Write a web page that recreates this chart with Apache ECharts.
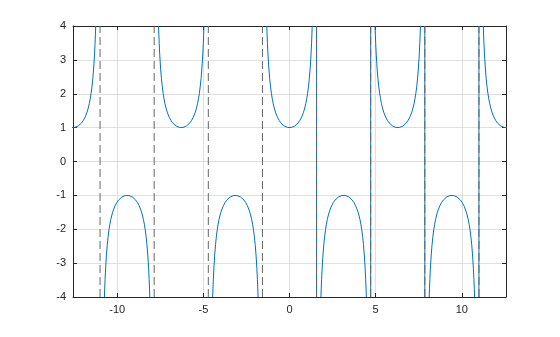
<!DOCTYPE html>
<html><head><meta charset="utf-8">
<script src="https://cdn.jsdelivr.net/npm/echarts@6/dist/echarts.min.js"></script>
<style>html,body{margin:0;padding:0;background:#fff}#c{width:560px;height:337px}</style>
</head><body><div id="c"></div>
<script>
// Branch centers (x) and their sign (+1 upward U, -1 downward cap)
const branchCenters = [-12.566, -9.425, -6.283, -3.142, 0, 3.142, 6.283, 9.425, 12.566];
const branchSigns = [1, -1, 1, -1, 1, -1, 1, -1, 1];
// Shape of one branch: offset from center -> |y|
const profileOffsets = [0, 0.1, 0.2, 0.3, 0.4, 0.5, 0.6, 0.7, 0.8, 0.85, 0.9, 0.95, 1.0, 1.05, 1.1, 1.15, 1.2, 1.25, 1.28, 1.3, 1.318];
const profileValues  = [1, 1.005, 1.02, 1.047, 1.086, 1.139, 1.212, 1.308, 1.435, 1.517, 1.609, 1.718, 1.851, 2.01, 2.204, 2.45, 2.76, 3.171, 3.49, 3.738, 4.0];
// Asymptotes
const asymptotesDashed = [-10.996, -7.854, -4.712, -1.571, 1.571, 4.712, 7.854, 10.996];
const asymptotesSolid = [1.571, 4.712, 7.854, 10.996];
// Ticks
const xTicks = [-10, -5, 0, 5, 10];
const yTicks = [-4, -3, -2, -1, 0, 1, 2, 3, 4];
const xRange = [-12.566, 12.566];
const yRange = [-4, 4];

const curve = [];
branchCenters.forEach((c, i) => {
  const s = branchSigns[i];
  for (let k = profileOffsets.length - 1; k >= 0; k--) curve.push([c - profileOffsets[k], s * profileValues[k]]);
  for (let k = 1; k < profileOffsets.length; k++) curve.push([c + profileOffsets[k], s * profileValues[k]]);
  curve.push([c, null]);
});
function vlines(xs) {
  const d = [];
  xs.forEach(x => { d.push([x, yRange[0]]); d.push([x, yRange[1]]); d.push([x, null]); });
  return d;
}
const txt = {color: '#262626', fontFamily: 'Liberation Sans, Arial, sans-serif', fontSize: 11};
const chart = echarts.init(document.getElementById('c'), null, {renderer: 'canvas'});
chart.setOption({
  animation: false,
  grid: {left: 73, right: 54, top: 26, bottom: 40, containLabel: false},
  xAxis: [{
    type: 'value', min: xRange[0], max: xRange[1], position: 'bottom',
    axisLine: {show: true, onZero: false, lineStyle: {color: '#262626', width: 1}},
    axisTick: {show: true, inside: true, length: 4, customValues: xTicks, lineStyle: {color: '#262626'}},
    axisLabel: Object.assign({customValues: xTicks, margin: 7}, txt),
    splitLine: {show: true, lineStyle: {color: '#dfdfdf', width: 1}}
  }, {
    type: 'value', min: xRange[0], max: xRange[1], position: 'top',
    axisLine: {show: true, onZero: false, lineStyle: {color: '#262626', width: 1}},
    axisTick: {show: true, inside: true, length: 4, customValues: xTicks, lineStyle: {color: '#262626'}},
    axisLabel: {show: false}, splitLine: {show: false}
  }],
  yAxis: [{
    type: 'value', min: yRange[0], max: yRange[1], interval: 1, position: 'left',
    axisLine: {show: true, onZero: false, lineStyle: {color: '#262626', width: 1}},
    axisTick: {show: true, inside: true, length: 4, lineStyle: {color: '#262626'}},
    axisLabel: Object.assign({margin: 7}, txt),
    splitLine: {show: true, lineStyle: {color: '#dfdfdf', width: 1}}
  }, {
    type: 'value', min: yRange[0], max: yRange[1], interval: 1, position: 'right',
    axisLine: {show: true, onZero: false, lineStyle: {color: '#262626', width: 1}},
    axisTick: {show: true, inside: true, length: 4, lineStyle: {color: '#262626'}},
    axisLabel: {show: false}, splitLine: {show: false}
  }],
  series: [{
    type: 'line', data: vlines(asymptotesSolid), showSymbol: false, connectNulls: false,
    lineStyle: {color: '#0072BD', width: 1}, z: 2
  }, {
    type: 'line', data: vlines(asymptotesDashed), showSymbol: false, connectNulls: false,
    lineStyle: {color: '#666666', width: 1, type: [8, 4]}, z: 3
  }, {
    type: 'line', data: curve, showSymbol: false, connectNulls: false, clip: true,
    lineStyle: {color: '#0072BD', width: 1}, z: 4
  }]
});
</script></body></html>
